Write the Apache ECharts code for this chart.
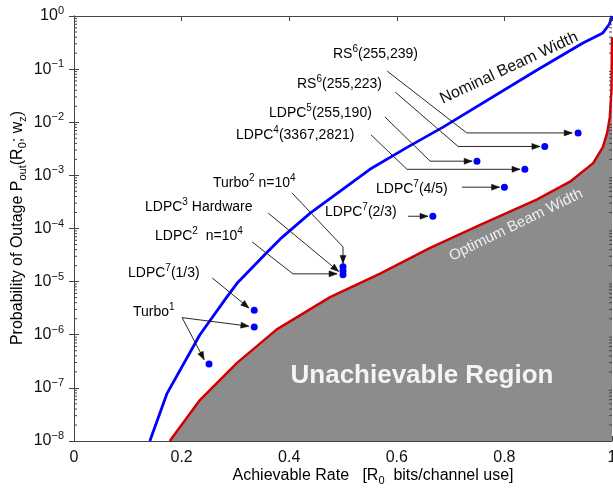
<!DOCTYPE html>
<html><head><meta charset="utf-8">
<script src="https://cdn.jsdelivr.net/npm/echarts@6/dist/echarts.min.js"></script>
<style>html,body{margin:0;padding:0;background:#fff}#c{width:613px;height:493px}</style>
</head><body><div id="c"></div>
<script>
const FONT = '"Liberation Sans", Arial, Helvetica, sans-serif';

// Nominal beam width curve (blue)
const nominalRate = [0.141, 0.173, 0.234, 0.284, 0.303, 0.358, 0.383, 0.439, 0.55, 0.62, 0.686, 0.86, 0.946, 0.983, 0.995, 1.0];
const nominalPout = [1e-8, 7.9e-8, 1e-6, 5.1e-6, 9.3e-6, 3.5e-5, 6.3e-5, 1.95e-4, 1.3e-3, 3.4e-3, 8.1e-3, 0.095, 0.31, 0.48, 0.7, 1.0];

// Optimum beam width curve (red, boundary of unachievable region)
const optimumRate = [0.178, 0.234, 0.303, 0.377, 0.476, 0.569, 0.662, 0.755, 0.86, 0.922, 0.965, 0.983, 0.991, 0.996, 0.999, 1.0];
const optimumPout = [1e-8, 5.9e-8, 2.95e-7, 1.26e-6, 5.1e-6, 1.41e-5, 4.3e-5, 1.17e-4, 3.5e-4, 7.6e-4, 1.7e-3, 3.4e-3, 6.3e-3, 0.0126, 0.04, 0.4];

// Code performance points
const codeRate = [0.251, 0.335, 0.335, 0.5, 0.5, 0.5, 0.667, 0.8, 0.838, 0.749, 0.875, 0.937];
const codePout = [2.8e-7, 1.4e-6, 2.9e-6, 1.35e-5, 1.6e-5, 1.9e-5, 1.7e-4, 6.0e-4, 1.3e-3, 1.85e-3, 3.5e-3, 6.3e-3];

// Annotation arrows (data coordinates: [rate, Pout])
const arrowPaths = [
  [[0.582, 9.2e-2], [0.730, 6.3e-3], [0.926, 6.3e-3]],   // RS(255,239)
  [[0.597, 3.7e-2], [0.714, 3.5e-3], [0.866, 3.5e-3]],   // RS(255,223)
  [[0.578, 1.26e-2], [0.662, 1.85e-3], [0.740, 1.85e-3]],// LDPC5
  [[0.552, 5.8e-3], [0.619, 1.3e-3], [0.829, 1.3e-3]],   // LDPC4
  [[0.721, 6.0e-4], [0.791, 6.0e-4]],                     // LDPC7 4/5
  [[0.621, 1.7e-4], [0.658, 1.7e-4]],                     // LDPC7 2/3
  [[0.405, 4.7e-4], [0.5, 4.5e-5], [0.5, 2.2e-5]],        // Turbo2
  [[0.361, 1.95e-4], [0.492, 1.55e-5]],                   // LDPC3
  [[0.331, 5.6e-5], [0.407, 1.4e-5], [0.489, 1.4e-5]],    // LDPC2
  [[0.257, 1.17e-5], [0.325, 3.2e-6]],                    // LDPC7 1/3
  [[0.201, 2.1e-6], [0.325, 1.45e-6]],                    // Turbo1 a
  [[0.201, 2.1e-6], [0.242, 3.4e-7]]                      // Turbo1 b
];

// Annotation texts
const labelTexts = [
  '{t|RS}{s|6}{t|(255,239)}',
  '{t|RS}{s|6}{t|(255,223)}',
  '{t|LDPC}{s|5}{t|(255,190)}',
  '{t|LDPC}{s|4}{t|(3367,2821)}',
  '{t|LDPC}{s|7}{t|(4/5)}',
  '{t|LDPC}{s|7}{t|(2/3)}',
  '{t|Turbo}{s|2}{t| n=10}{s|4}',
  '{t|LDPC}{s|3}{t| Hardware}',
  '{t|LDPC}{s|2}{t|  n=10}{s|4}',
  '{t|LDPC}{s|7}{t|(1/3)}',
  '{t|Turbo}{s|1}'
];
// pixel layout of annotation texts (left x, middle y)
const labelLayout = [[333,54],[297,84],[269,113],[236,135],[376,189],[325,212],[213,183],[145,207],[155,236],[128,273],[133,312]];

const minorTickVals = [];
for (let e = -8; e < 0; e++) for (let m = 2; m <= 9; m++) minorTickVals.push(m * Math.pow(10, e));

const richSmall = {
  t: {fontSize: 14, fontFamily: FONT, color: '#111'},
  s: {fontSize: 10, fontFamily: FONT, color: '#111', padding: [0, 0, 9, 0]}
};

const chart = echarts.init(document.getElementById('c'), null, {renderer: 'canvas'});

const axisLineStyle = {color: '#444', width: 1};

const graphics = labelTexts.map((t, i) => ({
  type: 'text', x: labelLayout[i][0], y: labelLayout[i][1], z: 100,
  style: {text: t, rich: richSmall, align: 'left', verticalAlign: 'middle'}
}));
graphics.push(
  {type: 'text', x: 509, y: 68, rotation: 25 * Math.PI / 180, z: 100,
   style: {text: 'Nominal Beam Width', font: '16px ' + FONT, fill: '#111', align: 'center', verticalAlign: 'middle'}},
  {type: 'text', x: 516, y: 225, rotation: 26 * Math.PI / 180, z: 100,
   style: {text: 'Optimum Beam Width', font: '15px ' + FONT, fill: '#f0f0f0', align: 'center', verticalAlign: 'middle'}},
  {type: 'text', x: 422, y: 376, z: 100,
   style: {text: 'Unachievable Region', font: 'bold 26px ' + FONT, fill: '#f4f4f4', align: 'center', verticalAlign: 'middle'}},
  {type: 'text', x: 373, y: 476, z: 100,
   style: {text: '{t|Achievable Rate   [R}{b|0}{t|  bits/channel use]}',
     rich: {t: {fontSize: 16, fontFamily: FONT, color: '#111'}, b: {fontSize: 11, fontFamily: FONT, color: '#111', padding: [9, 0, 0, 0]}},
     align: 'center', verticalAlign: 'middle'}},
  {type: 'text', x: 18, y: 228, rotation: Math.PI / 2, z: 100,
   style: {text: '{t|Probability of Outage P}{b|out}{t|(R}{b|0}{t|; w}{b|z}{t|)}',
     rich: {t: {fontSize: 16, fontFamily: FONT, color: '#111'}, b: {fontSize: 11, fontFamily: FONT, color: '#111', padding: [9, 0, 0, 0]}},
     align: 'center', verticalAlign: 'middle'}}
);

const option = {
  animation: false,
  backgroundColor: '#fff',
  grid: {left: 74, right: 1, top: 16, bottom: 52, containLabel: false, outerBoundsMode: 'none'},
  xAxis: [
    {type: 'value', min: 0, max: 1, interval: 0.2, position: 'bottom',
     axisLine: {show: true, lineStyle: axisLineStyle},
     axisTick: {show: true, inside: true, length: 5, lineStyle: axisLineStyle},
     axisLabel: {fontSize: 16, fontFamily: FONT, color: '#111', margin: 9, formatter: v => String(+v.toFixed(1))},
     splitLine: {show: false}},
    {type: 'value', min: 0, max: 1, interval: 0.2, position: 'top',
     axisLine: {show: true, lineStyle: axisLineStyle},
     axisTick: {show: true, inside: true, length: 5, lineStyle: axisLineStyle},
     axisLabel: {show: false}, splitLine: {show: false}}
  ],
  yAxis: [
    {type: 'log', logBase: 10, min: 1e-8, max: 1, position: 'left',
     axisLine: {show: true, lineStyle: axisLineStyle},
     axisTick: {show: true, inside: true, length: 5, lineStyle: axisLineStyle},
     axisLabel: {margin: 10, formatter: v => {
        const e = Math.round(Math.log10(v));
        return '{b|10}{s|' + (e < 0 ? '\u2212' + (-e) : e) + '}';
      }, rich: {
        b: {fontSize: 16, fontFamily: FONT, color: '#111'},
        s: {fontSize: 11, fontFamily: FONT, color: '#111', padding: [0, 0, 10, 0]}
      }},
     splitLine: {show: false}},
    {type: 'log', logBase: 10, min: 1e-8, max: 1, position: 'right',
     axisLine: {show: true, lineStyle: axisLineStyle},
     axisTick: {show: true, inside: true, length: 5, lineStyle: axisLineStyle},
     axisLabel: {show: false}, splitLine: {show: false}}
  ],
  series: [
    {type: 'line', name: 'Optimum', data: optimumRate.map((x, i) => [x, optimumPout[i]]),
     showSymbol: false, smooth: false, z: 3,
     lineStyle: {color: '#d40000', width: 2.5},
     areaStyle: {color: '#8c8c8c', opacity: 1, origin: 'start'}},
    {type: 'line', name: 'Nominal', data: nominalRate.map((x, i) => [x, nominalPout[i]]),
     showSymbol: false, smooth: false, z: 4,
     lineStyle: {color: '#0000ff', width: 2.8}},
    {type: 'custom', name: 'minorTicks', z: 5, clip: false,
     data: minorTickVals.map(v => [0, v]),
     renderItem: (params, api) => {
       const v = api.value(1);
       const l = api.coord([0, v]), r = api.coord([1, v]);
       return {type: 'group', children: [
         {type: 'line', shape: {x1: l[0], y1: l[1], x2: l[0] + 3, y2: l[1]}, style: {stroke: '#444', lineWidth: 1}},
         {type: 'line', shape: {x1: r[0], y1: r[1], x2: r[0] - 3, y2: r[1]}, style: {stroke: '#444', lineWidth: 1}}
       ]};
     }},
    {type: 'custom', name: 'arrows', z: 6, clip: false,
     data: arrowPaths.map(p => p[p.length - 1]),
     renderItem: (params, api) => {
       const path = arrowPaths[params.dataIndex];
       const pts = path.map(p => api.coord(p));
       const a = pts[pts.length - 2], b = pts[pts.length - 1];
       const dx = b[0] - a[0], dy = b[1] - a[1];
       const len = Math.sqrt(dx * dx + dy * dy);
       const ux = dx / len, uy = dy / len;
       const L = 8, W = 3;
       const bx = b[0] - ux * L, by = b[1] - uy * L;
       return {type: 'group', children: [
         {type: 'polyline', shape: {points: pts}, style: {stroke: '#111', lineWidth: 0.9, fill: null}},
         {type: 'polygon', shape: {points: [b, [bx - uy * W, by + ux * W], [bx + uy * W, by - ux * W]]},
          style: {fill: '#111', stroke: '#111', lineWidth: 0.5}}
       ]};
     }},
    {type: 'scatter', name: 'Codes', data: codeRate.map((x, i) => [x, codePout[i]]),
     symbol: 'circle', symbolSize: 7, z: 7,
     itemStyle: {color: '#0000ff', borderWidth: 0, opacity: 1}}
  ],
  graphic: graphics
};
chart.setOption(option);
</script>
</body></html>
